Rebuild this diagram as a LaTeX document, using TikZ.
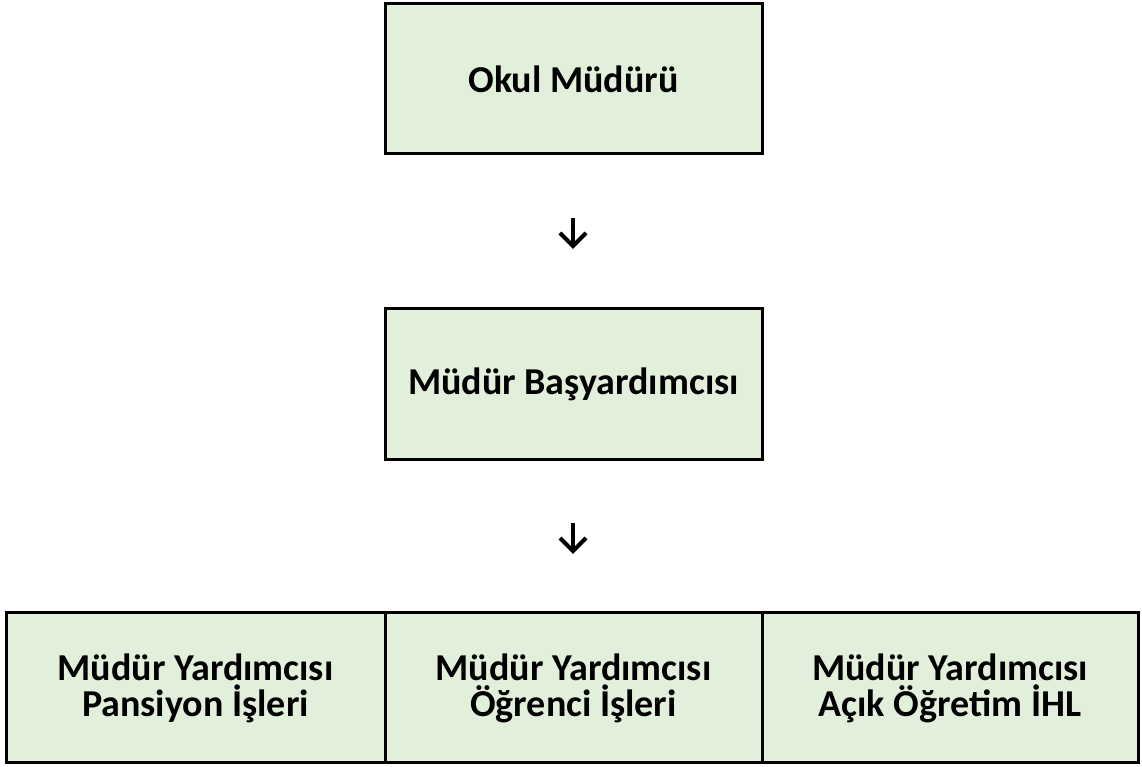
\documentclass[tikz,border=0pt]{standalone}
\usepackage{fontspec}
\setmainfont{Carlito}
\definecolor{boxfill}{HTML}{E2EFDA}
\begin{document}
\begin{tikzpicture}[x=1pt,y=1pt,
  orgbox/.style={draw=black,line width=3pt,fill=boxfill,inner sep=0pt,
    align=center,font=\fontsize{38}{36}\selectfont\bfseries},
  arrowglyph/.style={draw=black,line width=4pt,line cap=butt,line join=miter}]
\useasboundingbox (0,0) rectangle (1142,767);
\node[orgbox,minimum width=377pt,minimum height=150pt] (top) at (573.5,688) {Okul Müdürü};
\node[orgbox,minimum width=377pt,minimum height=151pt] (mid) at (573.5,382.5) {Müdür Başyardımcısı};
\node[orgbox,minimum width=379pt,minimum height=150pt] (b1) at (195.5,79) {Müdür Yardımcısı\\Pansiyon İşleri};
\node[orgbox,minimum width=377pt,minimum height=150pt] (b2) at (573.5,79) {Müdür Yardımcısı\\Öğrenci İşleri};
\node[orgbox,minimum width=376pt,minimum height=150pt] (b3) at (950,79) {Müdür Yardımcısı\\Açık Öğretim İHL};
% arrow glyphs between the boxes
\coordinate (a1) at (573,549);
\coordinate (a2) at (573,244);
\foreach \a in {a1,a2}{
  \draw[arrowglyph] (\a) -- ++(0,-28);
  \draw[arrowglyph] ([shift={(-13,-15)}]\a) -- ([shift={(0,-28)}]\a) -- ([shift={(13,-15)}]\a);
}
\end{tikzpicture}
\end{document}
